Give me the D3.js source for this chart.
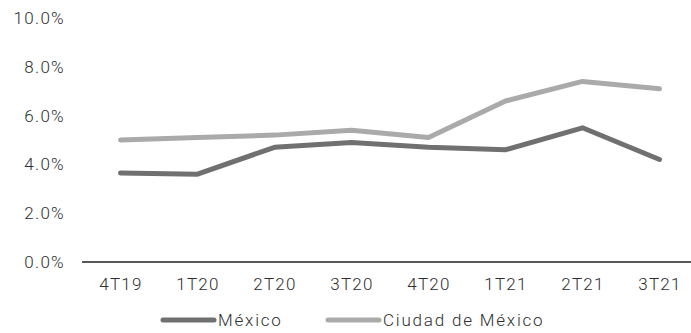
<!DOCTYPE html>
<html>
<head>
<meta charset="utf-8">
<script src="https://cdn.jsdelivr.net/npm/d3@7"></script>
<style>
  html, body { margin: 0; padding: 0; background: #fff; }
  svg { display: block; font-family: "Roboto", "Liberation Sans", sans-serif; }
  svg text { font-weight: 300; letter-spacing: 1.3px; }
  svg .legend text { letter-spacing: 1.8px; }
</style>
</head>
<body>
<svg id="chart" width="691" height="333"></svg>
<script>
// Quarterly rates (%)
const quarters = ["4T19", "1T20", "2T20", "3T20", "4T20", "1T21", "2T21", "3T21"];
const mexico = [3.65, 3.6, 4.7, 4.9, 4.7, 4.6, 5.5, 4.2];
const cdmx = [5.0, 5.1, 5.2, 5.4, 5.1, 6.6, 7.4, 7.1];
const yTicks = [0, 2, 4, 6, 8, 10];
const seriesNames = ["México", "Ciudad de México"];
const seriesColors = ["#707070", "#aaaaaa"];

const svg = d3.select("#chart");
const textColor = "#2e2e2e";
const fontSize = 17;

const x = d3.scalePoint().domain(quarters).range([82, 698]).padding(0.5);
const y = d3.scaleLinear().domain([0, 10]).range([262, 18]);

// Y tick labels (no axis line)
svg.append("g")
  .selectAll("text")
  .data(yTicks)
  .join("text")
  .attr("x", 65)
  .attr("y", d => y(d))
  .attr("dy", "0.35em")
  .attr("text-anchor", "end")
  .attr("fill", textColor)
  .attr("font-size", fontSize)
  .text(d => d.toFixed(1) + "%");

// X axis
const xAxis = svg.append("g")
  .attr("transform", `translate(0,${y(0)})`)
  .call(d3.axisBottom(x).tickSize(0).tickPadding(16));
xAxis.select(".domain").attr("stroke", "#222").attr("stroke-width", 1.3).attr("d", "M82,0H691");
xAxis.selectAll("text").attr("font-size", fontSize).attr("fill", textColor).attr("font-family", "Roboto, sans-serif");

// Lines
const line = d3.line().x((d, i) => x(quarters[i])).y(d => y(d));
[mexico, cdmx].forEach((vals, k) => {
  svg.append("path")
    .datum(vals)
    .attr("fill", "none")
    .attr("stroke", seriesColors[k])
    .attr("stroke-width", 5)
    .attr("stroke-linejoin", "round")
    .attr("stroke-linecap", "round")
    .attr("d", line);
});

// Legend
const legendItems = [{ x: 163 }, { x: 328 }];
const lg = svg.append("g").attr("class", "legend");
legendItems.forEach((it, k) => {
  lg.append("line")
    .attr("x1", it.x).attr("x2", it.x + 51)
    .attr("y1", 320).attr("y2", 320)
    .attr("stroke", seriesColors[k])
    .attr("stroke-width", 5)
    .attr("stroke-linecap", "round");
  lg.append("text")
    .attr("x", it.x + 55)
    .attr("y", 320)
    .attr("dy", "0.35em")
    .attr("font-size", fontSize)
    .attr("fill", textColor)
    .text(seriesNames[k]);
});
</script>
</body>
</html>
